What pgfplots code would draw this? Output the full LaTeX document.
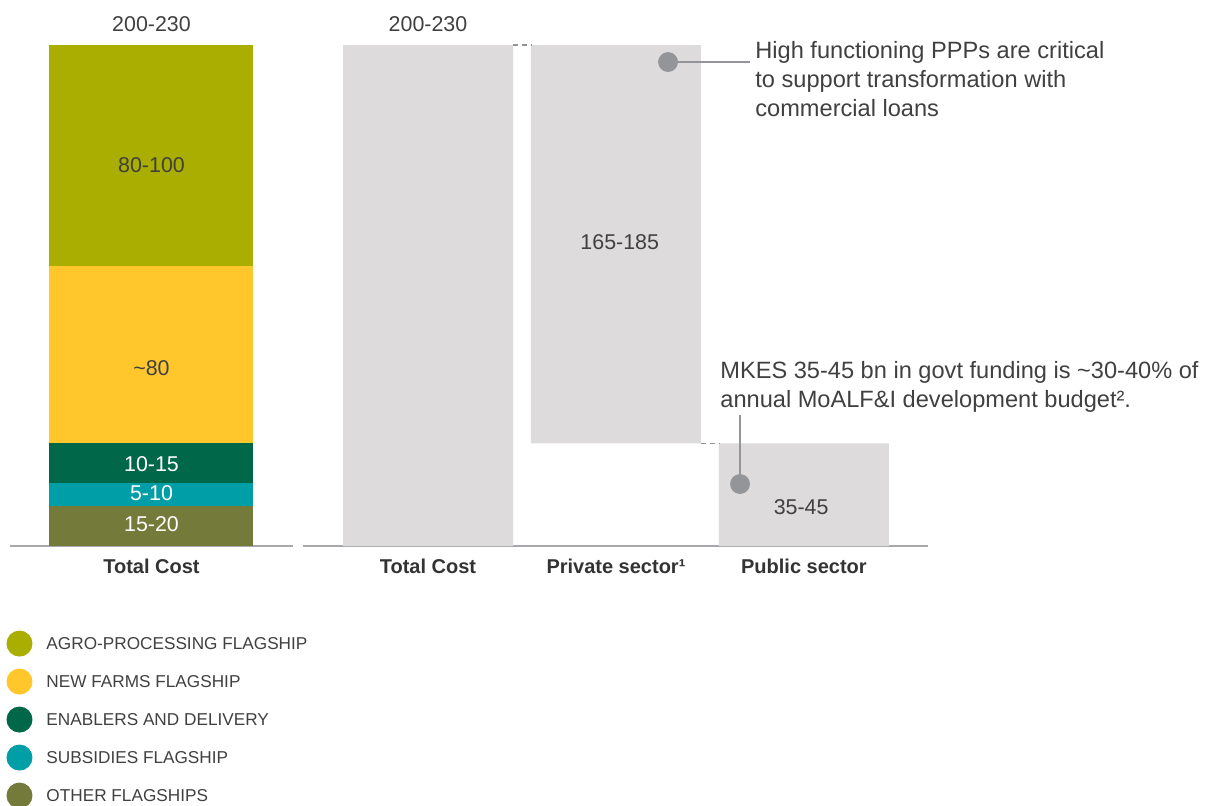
\documentclass[border=0pt]{standalone}
\usepackage{pgfplots}
\pgfplotsset{compat=1.18}
\usepackage{fontspec}
\setmainfont{Liberation Sans}
\definecolor{agro}{RGB}{170,174,0}
\definecolor{newfarm}{RGB}{255,199,44}
\definecolor{enab}{RGB}{0,104,72}
\definecolor{subs}{RGB}{0,158,166}
\definecolor{other}{RGB}{116,122,57}
\definecolor{barg}{RGB}{221,219,220}
\definecolor{dotg}{RGB}{147,149,152}
\definecolor{axg}{RGB}{167,169,172}
\definecolor{txt}{RGB}{64,64,64}
\definecolor{tick}{RGB}{51,51,51}
\newcommand\valfont{\fontsize{10.7}{12}\selectfont}
\newcommand\annfont{\fontsize{11.8}{14.5}\selectfont}
\begin{document}
\begin{tikzpicture}
\path[use as bounding box] (0,0) rectangle (604pt,402.5pt);
\pgfplotsset{
  base/.style={
    scale only axis, height=250.5pt, ymin=0, ymax=215, clip=false,
    anchor=south west,
    axis x line*=bottom, hide y axis,
    x axis line style={axg, line width=1pt},
    major tick length=0pt, xtick style={draw=none},
    xticklabel style={font=\fontsize{10}{12}\selectfont\bfseries, text=tick, anchor=base, yshift=-13.5pt},
  }
}
% left stacked bar
\begin{axis}[base, at={(5pt,129.5pt)}, width=141.5pt, xmin=-0.5, xmax=0.5,
  ybar stacked, bar width=102pt, xtick={0}, xticklabels={Total Cost},
  legend image code/.code={\fill[#1] (6.5pt,0.5pt) circle (6.5pt);},
  reverse legend, legend cell align=left,
  legend style={at={(rel axis cs:-0.035,-0.16)}, anchor=north west, draw=none, fill=none,
    font=\fontsize{8.6}{10}\selectfont, text=txt, row sep=6pt,
    nodes={inner sep=1pt}, /tikz/every odd column/.style={column sep=6pt}}]
\addplot[fill=other, draw=none] coordinates {(0,17)};
\addplot[fill=subs, draw=none] coordinates {(0,10)};
\addplot[fill=enab, draw=none] coordinates {(0,17)};
\addplot[fill=newfarm, draw=none] coordinates {(0,76)};
\addplot[fill=agro, draw=none] coordinates {(0,95)};
\legend{OTHER FLAGSHIPS, SUBSIDIES FLAGSHIP, ENABLERS AND DELIVERY, NEW FARMS FLAGSHIP, AGRO-PROCESSING FLAGSHIP}
\end{axis}
% left labels overlay
\begin{axis}[base, at={(5pt,129.5pt)}, width=141.5pt, xmin=-0.5, xmax=0.5, hide axis]
\node[font=\valfont, text=txt] at (axis cs:0,224) {200-230};
\node[font=\valfont, text=txt] at (axis cs:0,163.5) {80-100};
\node[font=\valfont, text=txt] at (axis cs:0,76.4) {\textasciitilde 80};
\node[font=\valfont, text=white] at (axis cs:0,35.2) {10-15};
\node[font=\valfont, text=white] at (axis cs:0,22.7) {5-10};
\node[font=\valfont, text=white] at (axis cs:0,9.4) {15-20};
\end{axis}
% right waterfall
\begin{axis}[base, at={(151.5pt,129.5pt)}, width=312.5pt, xmin=-0.665, xmax=2.66,
  ybar stacked, bar width=85pt, xtick={0,1,2},
  xticklabels={Total Cost, Private sector¹, Public sector}]
\addplot[draw=none, fill=none] coordinates {(0,0) (1,44) (2,0)};
\addplot[fill=barg, draw=none] coordinates {(0,215) (1,171) (2,44)};
\end{axis}
% annotations overlay
\begin{axis}[base, at={(151.5pt,129.5pt)}, width=312.5pt, xmin=-0.665, xmax=2.66,
  hide axis]
\addplot[dotg, line width=0.6pt, dash pattern=on 2.5pt off 2pt] coordinates {(0.452,215) (0.548,215)};
\addplot[dotg, line width=0.6pt, dash pattern=on 2.5pt off 2pt] coordinates {(1.452,44) (1.548,44)};
\addplot[dotg, line width=1pt] coordinates {(1.277,207.7) (1.713,207.7)};
\addplot[dotg, line width=1pt] coordinates {(1.660,26.6) (1.660,56.2)};
\addplot[only marks, mark=*, mark size=4.75pt, dotg, mark options={draw=none, fill=dotg}] coordinates {(1.277,207.7) (1.660,26.6)};
\node[font=\valfont, text=txt] at (axis cs:0,224) {200-230};
\node[font=\valfont, text=txt] at (axis cs:1.02,130.5) {165-185};
\node[font=\valfont, text=txt] at (axis cs:1.985,16.7) {35-45};
\end{axis}
\node[font=\annfont, text=txt, anchor=base west, inner sep=0pt] at (377.5pt,373.25pt) {High functioning PPPs are critical};
\node[font=\annfont, text=txt, anchor=base west, inner sep=0pt] at (377.5pt,358.75pt) {to support transformation with};
\node[font=\annfont, text=txt, anchor=base west, inner sep=0pt] at (377.5pt,344.25pt) {commercial loans};
\node[font=\annfont, text=txt, anchor=base west, inner sep=0pt] at (360pt,213.25pt) {MKES 35-45 bn in govt funding is \textasciitilde 30-40\% of};
\node[font=\annfont, text=txt, anchor=base west, inner sep=0pt] at (360pt,198.75pt) {annual MoALF\&I development budget².};
\end{tikzpicture}
\end{document}
